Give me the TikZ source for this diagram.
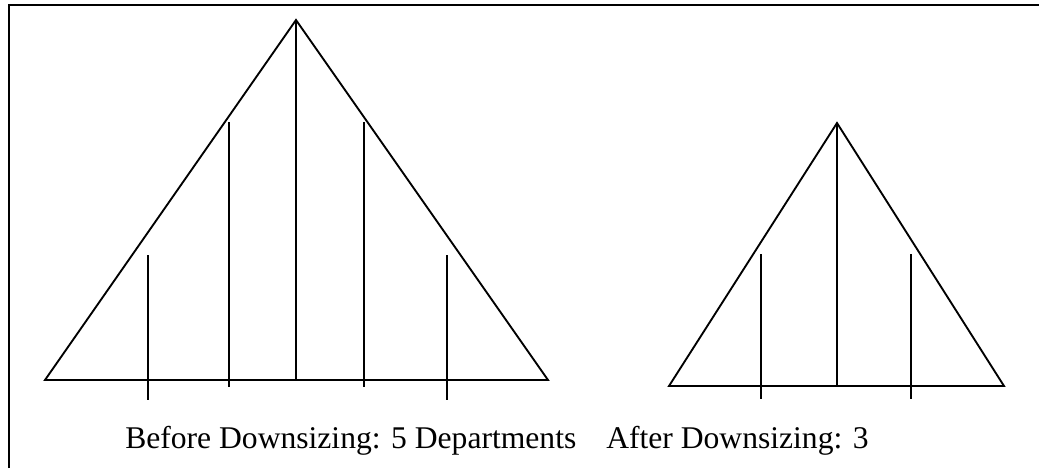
\documentclass[tikz,border=0pt]{standalone}
\usepackage{fontspec}
\setmainfont{Liberation Serif}
\usetikzlibrary{positioning}

\begin{document}
\begin{tikzpicture}[
    x=0.75pt, y=-0.75pt,
    frameline/.style={line width=2.2pt},
    orgline/.style={line width=1.4pt, line join=miter},
    deptline/.style={line width=1.4pt},
    caption/.style={font=\fontsize{23.7}{28}\selectfont, inner sep=0pt, anchor=base west},
  ]
  \useasboundingbox (0,0) rectangle (1039,468);

  % Frame (only top and left edges are visible)
  \coordinate (fbl) at (9,468);
  \coordinate (ftl) at (9,5);
  \coordinate (ftr) at (1039,5);
  \draw[frameline] (fbl) -- (ftl) -- (ftr);

  % Before: big pyramid with five departments
  \coordinate (bigtop) at (296,20);
  \coordinate (bigl)   at (45,380);
  \coordinate (bigr)   at (548,380);
  \draw[orgline] (bigl) -- (bigtop) -- (bigr) -- cycle;
  \draw[deptline] (bigtop) -- (296,380);
  \foreach \x/\ytop/\ybot in {148/255/400, 229/122/387, 364/122/387, 447/255/400}
    \draw[deptline] (\x,\ytop) -- (\x,\ybot);

  % After: small pyramid with three departments
  \coordinate (smalltop) at (837,123);
  \coordinate (smalll)   at (669,386);
  \coordinate (smallr)   at (1004,386);
  \draw[orgline] (smalll) -- (smalltop) -- (smallr) -- cycle;
  \draw[deptline] (smalltop) -- (837,386);
  \foreach \x in {761, 911}
    \draw[deptline] (\x,254) -- (\x,399);

  % Captions
  \node[caption] (before) at (125,448) {Before Downsizing: 5 Departments};
  \node[caption] (after)  at (606,448) {After Downsizing: 3};

\end{tikzpicture}
\end{document}
